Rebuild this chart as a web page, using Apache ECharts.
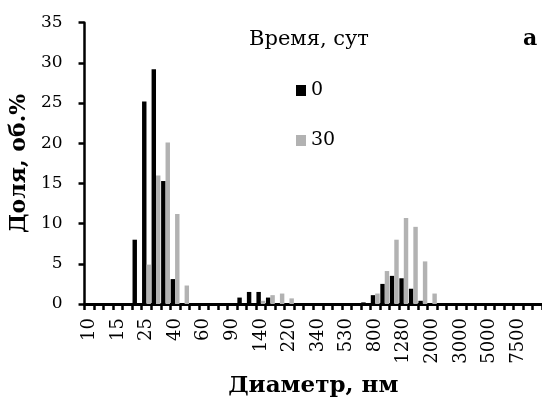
<!DOCTYPE html>
<html>
<head>
<meta charset="utf-8">
<script src="https://cdn.jsdelivr.net/npm/echarts@6/dist/echarts.min.js"></script>
<style>
  html, body { margin: 0; padding: 0; background: #fff; }
  #chart { width: 542px; height: 403px; }
</style>
</head>
<body>
<div id="chart"></div>
<script>
// Size classes, nm (log-spaced bins)
const diameters = [10.1, 11.7, 13.5, 15.7, 18.2, 21.0, 24.4, 28.2, 32.7, 37.8, 43.8, 50.7,
  58.8, 68.1, 78.8, 91.3, 105.7, 122.4, 141.8, 164.2, 190.1, 220.2, 255.0, 295.3,
  342.0, 396.1, 458.7, 531.2, 615.1, 712.4, 825.0, 955.4, 1106, 1281, 1484, 1718,
  1990, 2305, 2669, 3091, 3580, 4145, 4801, 5560, 6439, 7456, 8635, 10000];

// Labels printed under every third size class
const tickLabels = ['10', '15', '25', '40', '60', '90', '140', '220', '340', '530',
  '800', '1280', '2000', '3000', '5000', '7500'];

// Volume fraction, %, after 0 days
const day0 = [0, 0, 0, 0, 0, 8.0, 25.2, 29.2, 15.3, 3.1, 0, 0,
  0, 0, 0, 0, 0.8, 1.5, 1.5, 0.8, 0, 0, 0, 0,
  0, 0, 0, 0, 0, 0.2, 1.1, 2.5, 3.5, 3.2, 1.9, 0.4,
  0, 0, 0, 0, 0, 0, 0, 0, 0, 0, 0, 0];

// Volume fraction, %, after 30 days
const day30 = [0, 0, 0, 0, 0, 0, 4.9, 16.0, 20.1, 11.2, 2.3, 0,
  0, 0, 0, 0, 0, 0, 0.4, 1.1, 1.3, 0.7, 0, 0,
  0, 0, 0, 0, 0, 0, 1.3, 4.1, 8.0, 10.7, 9.6, 5.3,
  1.3, 0, 0, 0, 0, 0, 0, 0, 0, 0, 0, 0];

const serif = "'DejaVu Serif', 'Liberation Serif', serif";

const chart = echarts.init(document.getElementById('chart'), null, { renderer: 'canvas' });

chart.setOption({
  animation: false,
  backgroundColor: '#fff',
  title: [
    {
      text: 'Время, сут',
      left: 244, top: 24,
      textStyle: { fontFamily: serif, fontSize: 21, fontWeight: 'normal', color: '#000' }
    },
    {
      text: 'а',
      left: 518, top: 23,
      textStyle: { fontFamily: serif, fontSize: 22, fontWeight: 'bold', color: '#000' }
    }
  ],
  legend: {
    orient: 'vertical',
    left: 291, top: 76,
    itemWidth: 10, itemHeight: 11,
    itemGap: 31,
    icon: 'rect',
    data: ['0', '30'],
    textStyle: { fontFamily: serif, fontSize: 19, color: '#000' }
  },
  grid: { left: 84, right: -8, top: 22.7, bottom: 95.7, containLabel: false },
  xAxis: {
    type: 'category',
    data: diameters.map(String),
    name: 'Диаметр, нм',
    nameLocation: 'middle',
    nameGap: 71,
    nameTextStyle: { fontFamily: serif, fontSize: 23, fontWeight: 'bold', color: '#000' },
    axisLine: { show: true, lineStyle: { color: '#000', width: 3 } },
    axisTick: { show: true, interval: 0, length: 6, lineStyle: { color: '#000', width: 2.5 } },
    axisLabel: {
      interval: 0,
      rotate: 90,
      margin: 14,
      fontFamily: serif, fontSize: 18, color: '#000',
      formatter: (v, i) => (i % 3 === 0 && tickLabels[i / 3] !== undefined) ? tickLabels[i / 3] : ''
    },
    splitLine: { show: false }
  },
  yAxis: {
    type: 'value',
    min: 0, max: 35, interval: 5,
    name: 'Доля, об.%',
    nameLocation: 'middle',
    nameGap: 53,
    nameRotate: 90,
    nameTextStyle: { fontFamily: serif, fontSize: 22, fontWeight: 'bold', color: '#000' },
    axisLine: { show: true, lineStyle: { color: '#000', width: 2.5 } },
    axisTick: { show: true, length: 6, lineStyle: { color: '#000', width: 2.5 } },
    axisLabel: { margin: 22, fontFamily: serif, fontSize: 17, color: '#000' },
    splitLine: { show: false }
  },
  series: [
    {
      name: '0', type: 'bar', data: day0,
      itemStyle: { color: '#000' },
      barGap: '0%', barCategoryGap: '7%'
    },
    {
      name: '30', type: 'bar', data: day30,
      itemStyle: { color: '#b2b2b2' },
      barGap: '0%', barCategoryGap: '7%'
    }
  ]
});
</script>
</body>
</html>
